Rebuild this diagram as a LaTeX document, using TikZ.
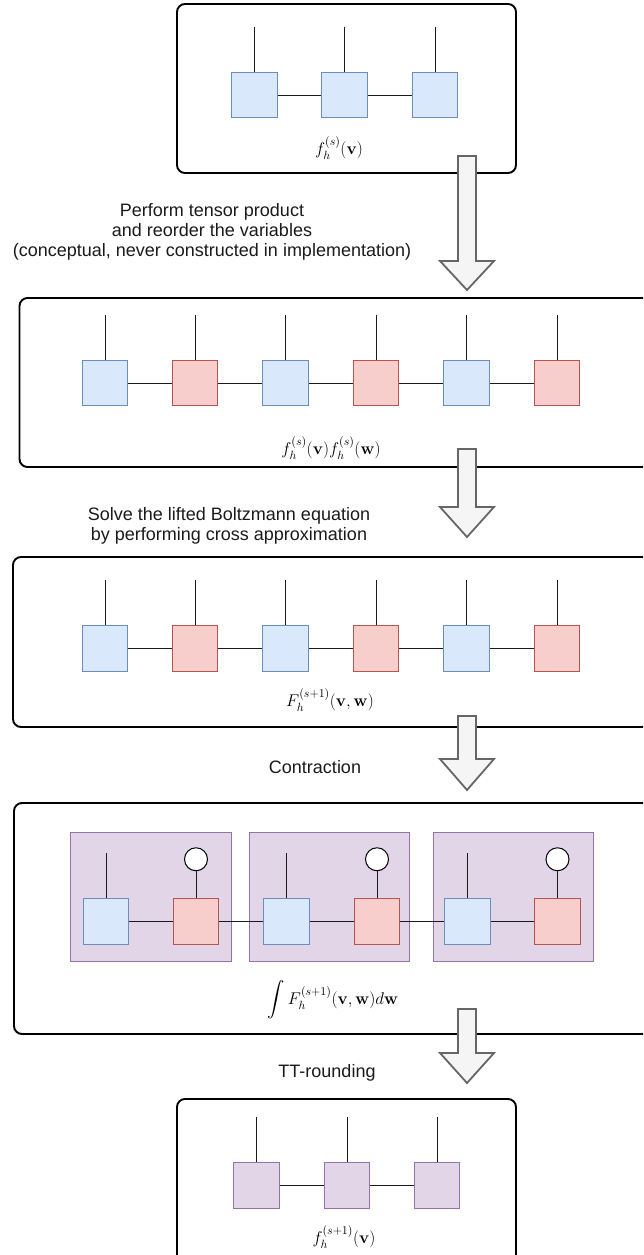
\RequirePackage{fix-cm}
\documentclass[tikz,border=0pt]{standalone}
\usepackage{exscale}
\usepackage[no-math]{fontspec}
\newfontfamily\labelfont{Liberation Sans}
\definecolor{bfill}{HTML}{DAE8FC}
\definecolor{bline}{HTML}{6C8EBF}
\definecolor{rfill}{HTML}{F8CECC}
\definecolor{rline}{HTML}{B85450}
\definecolor{pfill}{HTML}{E1D5E7}
\definecolor{pline}{HTML}{9673A6}
\definecolor{afill}{HTML}{F5F5F5}
\definecolor{aline}{HTML}{666666}
\definecolor{ink}{HTML}{1A1A1A}

% block arrow between two stages: shaft top, head start, tip
\newcommand\stagearrow[3]{%
  \draw[flow] (458,#1) -- (476,#1) -- (476,#2) -- (494,#2) -- (467,#3)
    -- (440,#2) -- (458,#2) -- cycle;}

\tikzset{
  stage/.style={draw=black, line width=1.9pt, rounded corners=8pt},
  core/.style={rectangle, minimum width=45.5pt, minimum height=45.5pt, inner sep=0pt, line width=1pt},
  bsq/.style={core, draw=bline, fill=bfill},
  rsq/.style={core, draw=rline, fill=rfill},
  psq/.style={core, draw=pline, fill=pfill},
  grp/.style={rectangle, draw=pline, fill=pfill, line width=1pt, inner sep=0pt,
              minimum width=160.5pt, minimum height=129pt},
  unit/.style={circle, draw=black, fill=white, line width=1pt, minimum size=23pt, inner sep=0pt},
  bond/.style={draw=ink, line width=0.85pt},
  flow/.style={draw=aline, fill=afill, line width=1.8pt, line join=miter},
  caption/.style={font=\labelfont\fontsize{18}{20.2}\selectfont, align=center, text=ink, inner sep=0pt},
  formula/.style={font=\fontsize{17}{20}\selectfont, inner sep=0pt}
}

\begin{document}
\begin{tikzpicture}[x=1pt, y=-1pt]
\useasboundingbox (0,0) rectangle (643,1255);
\clip (0,0) rectangle (643,1255);

% ---------- stage frames ----------
\draw[stage] (177,4) rectangle (516,173);
\draw[stage] (19.5,298) rectangle (650,467);
\draw[stage] (13,557) rectangle (650,727);
\draw[stage] (14,803) rectangle (650,1034);
\draw[stage] (177,1099) rectangle (516,1265);

% ---------- stage 1: f_h^{(s)}(v) ----------
\node[bsq] (a1) at (254.5,95) {};
\node[bsq] (a2) at (344.5,95) {};
\node[bsq] (a3) at (435,95) {};
\foreach \i in {1,2,3} {
  \coordinate (a\i t) at ([yshift=45pt]a\i.north);
  \draw[bond] (a\i t) -- (a\i.north);
}
\draw[bond] (a1) -- (a2) (a2) -- (a3);
\node[formula] (la) at (339,148) {$f_h^{(s)}(\mathbf{v})$};

% ---------- stage 2: product ----------
\node[bsq] (b1) at (105,383) {};
\node[rsq] (b2) at (195,383) {};
\node[bsq] (b3) at (285.5,383) {};
\node[rsq] (b4) at (376,383) {};
\node[bsq] (b5) at (466.5,383) {};
\node[rsq] (b6) at (557,383) {};
\foreach \i in {1,...,6} {
  \coordinate (b\i t) at ([yshift=45pt]b\i.north);
  \draw[bond] (b\i t) -- (b\i.north);
}
\draw[bond] (b1) -- (b2) (b2) -- (b3) (b3) -- (b4) (b4) -- (b5) (b5) -- (b6);
\node[formula] (lb) at (331,448) {$f_h^{(s)}(\mathbf{v})f_h^{(s)}(\mathbf{w})$};

% ---------- stage 3: cross approximation ----------
\node[bsq] (c1) at (105,648.5) {};
\node[rsq] (c2) at (195,648.5) {};
\node[bsq] (c3) at (285.5,648.5) {};
\node[rsq] (c4) at (376,648.5) {};
\node[bsq] (c5) at (466.5,648.5) {};
\node[rsq] (c6) at (557,648.5) {};
\foreach \i in {1,...,6} {
  \coordinate (c\i t) at ([yshift=45pt]c\i.north);
  \draw[bond] (c\i t) -- (c\i.north);
}
\draw[bond] (c1) -- (c2) (c2) -- (c3) (c3) -- (c4) (c4) -- (c5) (c5) -- (c6);
\node[formula] (lc) at (330,700) {$F_h^{(s+1)}(\mathbf{v},\mathbf{w})$};

% ---------- stage 4: contraction ----------
\node[grp] (g1) at (151,896.5) {};
\node[grp] (g2) at (329.5,896.5) {};
\node[grp] (g3) at (513.5,896.5) {};
\node[bsq] (d1) at (106,921.5) {};
\node[rsq] (d2) at (196,921.5) {};
\node[bsq] (d3) at (286.5,921.5) {};
\node[rsq] (d4) at (377,921.5) {};
\node[bsq] (d5) at (467.5,921.5) {};
\node[rsq] (d6) at (557.5,921.5) {};
\foreach \i in {1,3,5} {
  \coordinate (d\i t) at ([yshift=45pt]d\i.north);
  \draw[bond] (d\i t) -- (d\i.north);
}
\foreach \i in {2,4,6} {
  \node[unit] (u\i) at ([yshift=39pt]d\i.north) {};
  \draw[bond] (u\i) -- (d\i.north);
}
\draw[bond] (d1) -- (d2) (d2) -- (d3) (d3) -- (d4) (d4) -- (d5) (d5) -- (d6);
\node[formula] (ld) at (333,1000) {$\displaystyle\int F_h^{(s+1)}(\mathbf{v},\mathbf{w})d\mathbf{w}$};

% ---------- stage 5: rounded train ----------
\node[psq] (e1) at (256.5,1185.5) {};
\node[psq] (e2) at (347,1185.5) {};
\node[psq] (e3) at (437,1185.5) {};
\foreach \i in {1,2,3} {
  \coordinate (e\i t) at ([yshift=45pt]e\i.north);
  \draw[bond] (e\i t) -- (e\i.north);
}
\draw[bond] (e1) -- (e2) (e2) -- (e3);
\node[formula] (le) at (344,1237) {$f_h^{(s+1)}(\mathbf{v})$};

% ---------- transitions ----------
\stagearrow{156}{261}{290}
\stagearrow{449}{507}{537}
\stagearrow{716}{759}{790}
\stagearrow{1009}{1053}{1083}

\node[caption] (s1) at (212,232) {Perform tensor product\\and reorder the variables\\(conceptual, never constructed in implementation)};
\node[caption] (s2) at (229,525.5) {Solve the lifted Boltzmann equation\\by performing cross approximation};
\node[caption] (s3) at (315,767) {Contraction};
\node[caption] (s4) at (327,1073) {TT-rounding};
\end{tikzpicture}
\end{document}
